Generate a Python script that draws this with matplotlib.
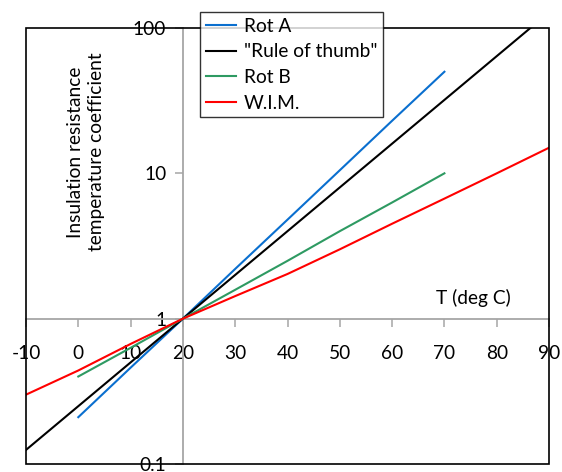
import matplotlib
matplotlib.use("Agg")
import matplotlib.pyplot as plt
from matplotlib.patches import Rectangle

plt.rcParams['font.family'] = ['Lato', 'DejaVu Sans']

# Data
rot_a_T = [0, 10, 20, 30, 40, 50, 60, 70]
rot_a_v = [0.21, 0.46, 1.0, 2.2, 4.8, 10.5, 23.0, 50.0]

rule_T = [-10, 0, 10, 20, 30, 40, 50, 60, 70, 80, 90]
rule_v = [0.125, 0.25, 0.5, 1, 2, 4, 8, 16, 32, 64, 128]

rot_b_T = [0, 10, 20, 30, 40, 50, 60, 70]
rot_b_v = [0.40, 0.63, 1.0, 1.58, 2.5, 4.0, 6.3, 10.0]

wim_T = [-10, 0, 10, 20, 30, 40, 50, 60, 70, 80, 90]
wim_v = [0.30, 0.44, 0.67, 1.0, 1.43, 2.03, 3.0, 4.5, 6.7, 10.0, 15.0]

x_ticks = [-10, 0, 10, 20, 30, 40, 50, 60, 70, 80, 90]
y_ticks = [0.1, 1, 10, 100]
y_tick_labels = ['0.1', '1', '10', '100']

FS = 13.8

fig = plt.figure(figsize=(5.62, 4.72), dpi=100)
ax = fig.add_axes([26/562, 1-464/472, (549-26)/562, (464-28)/472])
ax.set_yscale('log')
ax.set_xlim(-10, 90)
ax.set_ylim(0.1, 100)

lw = 1.5
ax.plot(rot_a_T, rot_a_v, color='#0A6FCF', lw=lw, label='Rot A', zorder=4)
ax.plot(rule_T, rule_v, color='black', lw=lw, label='"Rule of thumb"', zorder=4)
ax.plot(rot_b_T, rot_b_v, color='#2E9A62', lw=lw, label='Rot B', zorder=4)
ax.plot(wim_T, wim_v, color='#FF0000', lw=lw, label='W.I.M.', zorder=4)

gray = '#A6A6A6'
ax.spines['top'].set_visible(False)
ax.spines['right'].set_visible(False)
ax.spines['left'].set_position(('data', 20))
ax.spines['bottom'].set_position(('data', 1))
for s in ('left', 'bottom'):
    ax.spines[s].set_color(gray)
    ax.spines[s].set_linewidth(1.3)
    ax.spines[s].set_zorder(2)

ax.set_xticks(x_ticks)
ax.set_xticklabels([str(t) for t in x_ticks])
ax.set_yticks(y_ticks)
ax.set_yticklabels(y_tick_labels)
ax.yaxis.set_minor_locator(matplotlib.ticker.NullLocator())
ax.tick_params(axis='x', direction='out', length=6, width=1.1, color=gray,
               labelsize=FS, pad=13)
ax.tick_params(axis='y', direction='out', length=6, width=1.1, color=gray,
               labelsize=FS, pad=6)

frame = Rectangle((0, 0), 1, 1, transform=ax.transAxes, fill=False,
                  edgecolor='black', lw=1.2, zorder=5, clip_on=False)
ax.add_patch(frame)

fig.text(86/562, 1-152/472, 'Insulation resistance\ntemperature coefficient',
         rotation=90, ha='center', va='center', fontsize=FS, linespacing=1.25)
fig.text(473/562, 1-298/472, 'T (deg C)', ha='center', va='center', fontsize=FS)

leg = ax.legend(loc='upper left', bbox_to_anchor=(200/562, 1-12/472),
                bbox_transform=fig.transFigure, frameon=True, fancybox=False,
                edgecolor='black', fontsize=FS, handlelength=1.6,
                handletextpad=0.4, borderpad=0.3, labelspacing=0.45,
                borderaxespad=0)
leg.get_frame().set_linewidth(1.0)
leg.set_zorder(10)

fig.savefig('out.png', dpi=100)
